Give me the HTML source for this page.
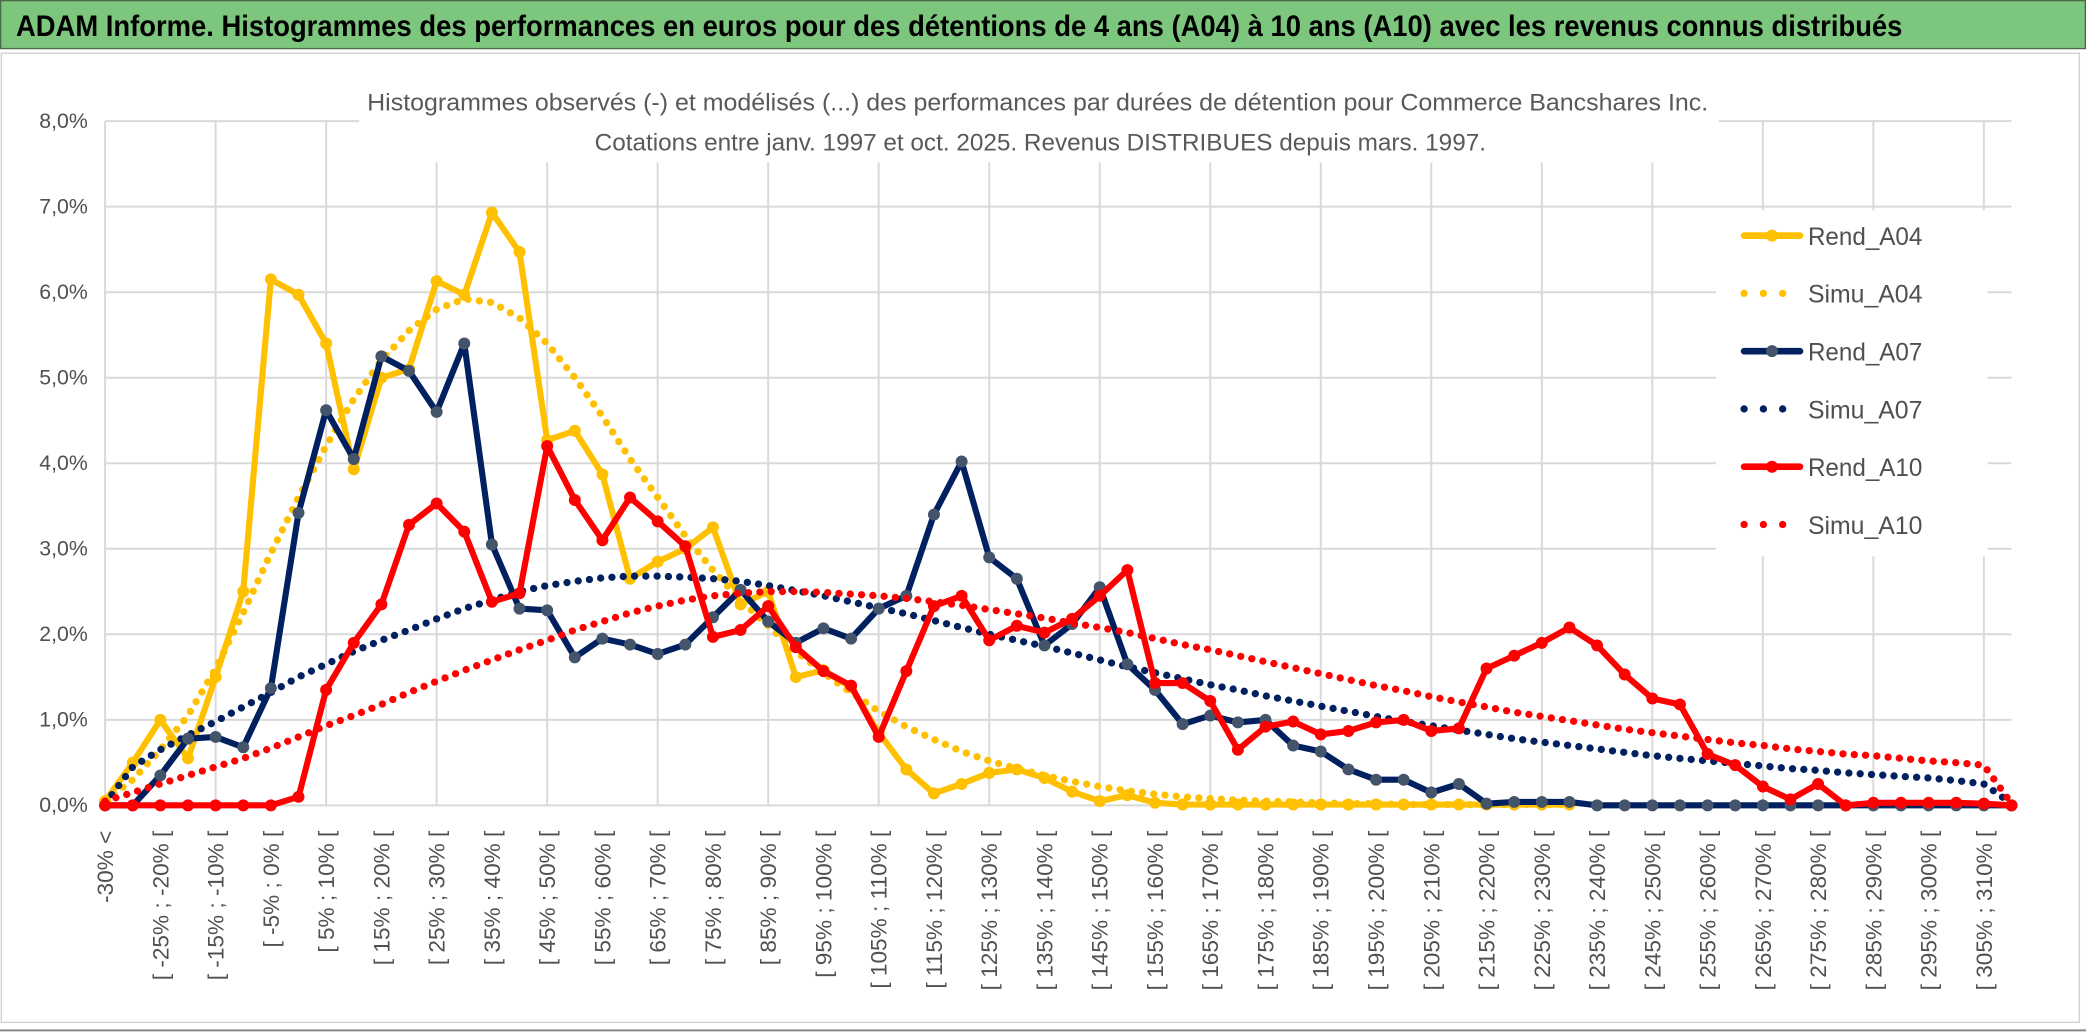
<!DOCTYPE html>
<html><head><meta charset="utf-8"><style>
html,body{margin:0;padding:0;background:#fff;}
svg{display:block;}
text{font-family:"Liberation Sans",sans-serif;}
</style></head><body>
<svg id="chart" width="2086" height="1033" viewBox="0 0 1568 776" preserveAspectRatio="none" xmlns="http://www.w3.org/2000/svg">
<rect x="0" y="0" width="1568" height="776" fill="#fff"/>
<g>
<rect x="0.5" y="0.5" width="1567" height="36" fill="#7DC67E" stroke="#4a6a4a" stroke-width="1"/>
<text x="12" y="27" font-size="22" font-weight="bold" fill="#000" textLength="1418" lengthAdjust="spacingAndGlyphs">ADAM Informe. Histogrammes des performances en euros pour des détentions de 4 ans (A04) à 10 ans (A10) avec les revenus connus distribués</text>
</g>
<rect x="1" y="40" width="1562" height="728" fill="#fff" stroke="#d0d0d0" stroke-width="1"/>
<line x1="0" y1="774" x2="1568" y2="774" stroke="#888" stroke-width="1.5"/>
<g id="grid"></g>
<rect x="270" y="62" width="1022" height="60" fill="#fff"/>
<rect x="1290" y="158" width="204" height="260" fill="#fff"/>
<text x="276" y="83" font-size="18" fill="#595959" textLength="1008" lengthAdjust="spacingAndGlyphs">Histogrammes observés (-) et modélisés (...) des performances  par durées de détention pour Commerce Bancshares Inc.</text>
<text x="447" y="113" font-size="18" fill="#595959" textLength="670" lengthAdjust="spacingAndGlyphs">Cotations entre janv. 1997 et oct. 2025. Revenus DISTRIBUES depuis mars. 1997.</text>
<g id="yaxis"></g>
<g id="xaxis"></g>
<g id="series"></g>
<g id="legend"></g>
</svg>
<script>
const categories = (function(){const a=["-30% <"];for(let k=1;k<70;k++){a.push("[ "+(-35+5*k)+"% ; "+(-30+5*k)+"% [");}return a;})();
const yTicks = [0,1,2,3,4,5,6,7,8];
const yTickLabels = ["0,0%","1,0%","2,0%","3,0%","4,0%","5,0%","6,0%","7,0%","8,0%"];
const rendA04 = [0.05,0.5,1.0,0.55,1.5,2.5,6.15,5.97,5.4,3.93,5.0,5.1,6.13,5.97,6.93,6.47,4.27,4.38,3.87,2.65,2.85,3.0,3.25,2.35,2.5,1.5,1.58,1.38,0.85,0.42,0.14,0.25,0.38,0.42,0.32,0.16,0.05,0.12,0.03,0.01,0.01,0.01,0.01,0.01,0.01,0.01,0.01,0.01,0.01,0.01,0.01,0.01,0.01,0.01];
const simuA04 = [0.05,0.3,0.65,1.05,1.6,2.25,2.95,3.6,4.2,4.75,5.2,5.55,5.8,5.92,5.88,5.7,5.4,5.0,4.55,4.05,3.6,3.15,2.75,2.4,2.1,1.8,1.55,1.32,1.1,0.92,0.77,0.63,0.52,0.43,0.35,0.28,0.22,0.17,0.13,0.1,0.08,0.06,0.05,0.04,0.03,0.02,0.02,0.01,0.01,0.01,0.01,0.01,0.01,0.01];
const rendA07 = [0,0,0.35,0.78,0.8,0.68,1.37,3.42,4.62,4.05,5.25,5.08,4.6,5.4,3.05,2.3,2.28,1.73,1.95,1.88,1.77,1.88,2.2,2.52,2.15,1.9,2.07,1.95,2.3,2.45,3.4,4.02,2.9,2.65,1.87,2.12,2.55,1.65,1.35,0.95,1.05,0.97,1.0,0.7,0.63,0.42,0.3,0.3,0.15,0.25,0.02,0.04,0.04,0.04,0,0,0,0,0,0,0,0,0,0,0,0,0,0,0,0];
const simuA07 = [0.02,0.45,0.65,0.82,0.98,1.15,1.32,1.5,1.65,1.8,1.93,2.05,2.18,2.3,2.4,2.5,2.57,2.62,2.66,2.68,2.68,2.67,2.65,2.62,2.57,2.51,2.45,2.38,2.31,2.24,2.16,2.08,2.0,1.93,1.86,1.78,1.7,1.62,1.55,1.48,1.41,1.35,1.28,1.22,1.16,1.1,1.04,0.98,0.93,0.88,0.83,0.78,0.74,0.7,0.66,0.62,0.58,0.55,0.52,0.49,0.46,0.43,0.41,0.38,0.36,0.34,0.32,0.29,0.25,0.02];
const rendA10 = [0,0,0,0,0,0,0,0.1,1.35,1.9,2.35,3.28,3.53,3.2,2.38,2.48,4.2,3.57,3.1,3.6,3.32,3.03,1.97,2.05,2.33,1.85,1.57,1.4,0.8,1.57,2.33,2.45,1.93,2.1,2.02,2.18,2.45,2.75,1.43,1.43,1.22,0.65,0.92,0.98,0.83,0.87,0.97,1.0,0.87,0.9,1.6,1.75,1.9,2.08,1.87,1.53,1.25,1.18,0.6,0.47,0.22,0.07,0.25,0,0.03,0.03,0.03,0.03,0.02,0];
const simuA10 = [0.05,0.15,0.25,0.35,0.45,0.55,0.67,0.8,0.93,1.05,1.18,1.32,1.45,1.58,1.7,1.82,1.93,2.05,2.15,2.25,2.33,2.4,2.45,2.48,2.5,2.5,2.49,2.47,2.45,2.42,2.38,2.34,2.29,2.24,2.19,2.13,2.08,2.02,1.95,1.88,1.82,1.75,1.68,1.61,1.54,1.47,1.4,1.34,1.27,1.21,1.15,1.09,1.04,0.99,0.94,0.89,0.85,0.81,0.77,0.73,0.7,0.66,0.63,0.6,0.58,0.55,0.52,0.5,0.47,0.02];

const NS="http://www.w3.org/2000/svg";
const X0=79, X1=1512, Y0=605, PER=64.25, N=categories.length;
function xs(i){return X0+i*(X1-X0)/(N-1);}
function ys(v){return Y0-v*PER;}
function mk(tag,attrs,parent){const e=document.createElementNS(NS,tag);for(const k in attrs)e.setAttribute(k,attrs[k]);parent.appendChild(e);return e;}

const grid=document.getElementById('grid');
yTicks.forEach(function(t){
  const l=mk('line',{x1:X0,x2:X1,y1:ys(t),y2:ys(t),stroke:'#d9d9d9','stroke-width':1.5},grid);
  
  
});
for(let i=0;i<N-1;i+=4){
  const l=mk('line',{x1:xs(i),x2:xs(i),y1:ys(8),y2:ys(0),stroke:'#d9d9d9','stroke-width':1.5},grid);
  
  
}
const yax=document.getElementById('yaxis');
yTicks.forEach(function(t,k){
  const tx=mk('text',{x:66,y:ys(t)+5,'text-anchor':'end','font-size':16,fill:'#505050'},yax);
  tx.textContent=yTickLabels[k];
  
  
});
const xax=document.getElementById('xaxis');
for(let i=0;i<N;i+=2){
  const x=xs(i)+6, y=624;
  const tx=mk('text',{x:x,y:y,'text-anchor':'end','font-size':17,fill:'#505050',transform:'rotate(-90 '+x+' '+y+')'},xax);
  tx.textContent=categories[i];
  
  
}
const ser=document.getElementById('series');
function pts(arr){return arr.map(function(v,i){return xs(i).toFixed(1)+','+ys(v).toFixed(1);}).join(' ');}
function dotted(arr,color,name){
  const p=mk('polyline',{points:pts(arr),fill:'none',stroke:color,'stroke-width':5.5,'stroke-linecap':'round','stroke-dasharray':'0 8.5'},ser);
  
  
}
function solid(arr,color,mcolor,name){
  const g=mk('g',{},ser);
  
  
  mk('polyline',{points:pts(arr),fill:'none',stroke:color,'stroke-width':4.6,'stroke-linejoin':'round'},g);
  arr.forEach(function(v,i){
    const c=mk('circle',{cx:xs(i),cy:ys(v),r:4.5,fill:mcolor},g);
    
    
  });
}
dotted(simuA04,'#FFC000','simu-a04-line');
solid(rendA04,'#FFC000','#FFC000','rend-a04-line');
dotted(simuA07,'#002060','simu-a07-line');
solid(rendA07,'#002060','#44546A','rend-a07-line');
dotted(simuA10,'#FF0000','simu-a10-line');
solid(rendA10,'#FF0000','#FF0000','rend-a10-line');

const leg=document.getElementById('legend');
const legItems=[['Rend_A04','#FFC000','#FFC000',false],['Simu_A04','#FFC000','',true],['Rend_A07','#002060','#44546A',false],['Simu_A07','#002060','',true],['Rend_A10','#FF0000','#FF0000',false],['Simu_A10','#FF0000','',true]];
legItems.forEach(function(it,k){
  const y=177+k*43.4;
  const g=mk('g',{},leg);
  
  
  if(it[3]){
    mk('line',{x1:1311,x2:1349,y1:y,y2:y,stroke:it[1],'stroke-width':5.5,'stroke-linecap':'round','stroke-dasharray':'0 14.5'},g);
  } else {
    mk('line',{x1:1311,x2:1353,y1:y,y2:y,stroke:it[1],'stroke-width':5,'stroke-linecap':'round'},g);
    mk('circle',{cx:1332,cy:y,r:4.5,fill:it[2]},g);
  }
  const t=mk('text',{x:1359,y:y+7,'font-size':19,fill:'#505050',textLength:86,lengthAdjust:'spacingAndGlyphs'},g);
  t.textContent=it[0];
});
</script>
</body></html>
